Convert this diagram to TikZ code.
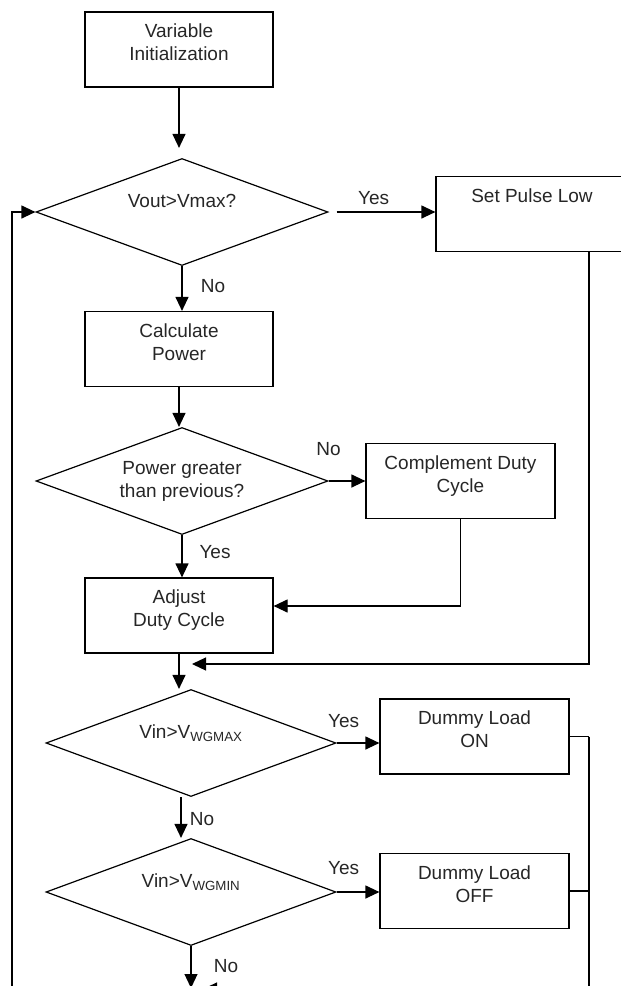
\documentclass[tikz,border=0pt]{standalone}
\usepackage{fontspec}
\setmainfont{Liberation Sans}
\usetikzlibrary{shapes.geometric,arrows.meta}

\begin{document}
\begin{tikzpicture}[x=1pt,y=1pt,line width=1.2pt,
  every node/.style={font=\fontsize{19}{23}\selectfont,text=black!85},
  procbox/.style={draw=black,rectangle,minimum width=188pt,minimum height=75pt,inner sep=0pt,align=center,text depth=14pt},
  decision/.style={draw=black,diamond,aspect=2.7,minimum width=292pt,minimum height=107pt,inner sep=0pt,align=center},
  flow/.style={-{Triangle[length=14pt,width=13pt]}}]

\useasboundingbox (0,0) rectangle (621,-986);
\clip (0,0) rectangle (621,-986);

\node[procbox] (init) at (179,-49.5) {Variable\\Initialization};
\node[decision] (d1) at (182,-212) {Vout>Vmax?\\\mbox{}};
\node[procbox,minimum width=192pt] (setlow) at (532,-214) {Set Pulse Low\\\mbox{}};
\node[procbox] (calc) at (179,-349) {Calculate\\Power};
\node[decision] (d2) at (182,-481) {Power greater\\than previous?};
\node[procbox,minimum width=189pt] (comp) at (460.5,-481) {Complement Duty\\Cycle};
\node[procbox] (adjust) at (179,-615.5) {Adjust\\Duty Cycle};
\node[decision,minimum width=290pt] (d3) at (191,-743) {Vin>V\textsubscript{WGMAX}\\\mbox{}};
\node[procbox,minimum width=189pt] (dumon) at (474.5,-736.5) {Dummy Load\\ON};
\node[decision,minimum width=290pt] (d4) at (191,-892) {Vin>V\textsubscript{WGMIN}\\\mbox{}};
\node[procbox,minimum width=189pt] (dumoff) at (474.5,-891) {Dummy Load\\OFF};

\coordinate (merge) at (192,-664);
\coordinate (rtop) at (589,-736.5);
\coordinate (back) at (203,-989);
\coordinate (dend) at (191,-988);
\coordinate (lbot) at (12,-989);

\draw[flow,shorten >=10pt] (init.south) -- (init.south |- d1.north);
\draw[flow,shorten <=8pt] (d1.east) -- node[pos=0,xshift=45pt,yshift=14pt] {Yes} (d1.east -| setlow.west);
\draw[flow] (d1.south) -- node[pos=0,xshift=31pt,yshift=-20pt] {No} (d1.south |- calc.north);
\draw[flow] (calc.south) -- (calc.south |- d2.north);
\draw[flow] (d2.east) -- node[pos=0,yshift=32pt] {No} (comp.west);
\draw[flow] (d2.south) -- node[pos=0,xshift=33pt,yshift=-17pt] {Yes} (d2.south |- adjust.north);
\draw[flow] (comp.south) |- ([yshift=9.5pt]adjust.east);
\draw[flow] (adjust.south) -- (adjust.south |- d3.north);
\draw[flow] ([xshift=57pt]setlow.south) |- (merge);

\draw[flow] (d3.east) -- node[pos=0,xshift=7pt,yshift=22pt] {Yes} (d3.east -| dumon.west);
\draw[flow] ([xshift=-10pt]d3.south) -- node[pos=0,xshift=21pt,yshift=-22pt] {No} ([xshift=-10pt]d4.north);
\draw[flow] (d4.east) -- node[pos=0,xshift=7pt,yshift=24pt] {Yes} (d4.east -| dumoff.west);
\draw[flow] (d4.south) -- node[pos=0,xshift=35pt,yshift=-20pt] {No} (dend);

\draw (dumon.east) -- (rtop);
\draw (dumoff.east) -- (dumoff.east -| rtop);
\draw[flow] (rtop) |- (back);
\draw[flow] (lbot) |- (d1.west);

\end{tikzpicture}
\end{document}
